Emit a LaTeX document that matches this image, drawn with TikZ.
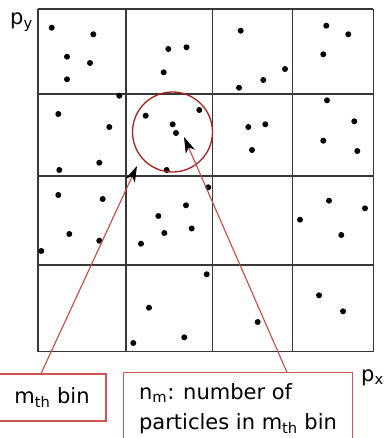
\documentclass[tikz,border=0pt]{standalone}
\usepackage{fontspec}
\setmainfont{DejaVu Sans}
\usetikzlibrary{arrows.meta,calc}
\definecolor{boxred}{RGB}{205,85,85}
\definecolor{circred}{RGB}{165,35,35}
\definecolor{linered}{RGB}{205,70,70}
\definecolor{gridgray}{RGB}{55,55,55}
\begin{document}
\begin{tikzpicture}[x=1pt,y=-1pt,
  gridline/.style={draw=gridgray,line width=1.2pt},
  dot/.style={fill=black},
  labelbox/.style={draw=boxred,line width=1.1pt,rectangle,inner sep=0pt},
  pointer/.style={draw=linered,line width=1.1pt,-{Stealth[length=16pt,width=10pt,inset=4.5pt,black]}},
  axislabel/.style={inner sep=0pt,anchor=base west},
  every node/.style={font=\fontsize{21}{30}\selectfont}]
\useasboundingbox (0,0) rectangle (384,438);
% grid
\foreach \x in {38,126,212.7,292.7,373.3}
  \draw[gridline] (\x,9) -- (\x,351.5);
\foreach \y in {9,94,176,265,351.5}
  \draw[gridline] (38,\y) -- (373.3,\y);
% particles
\foreach \p in {(51.7,27.7),(93.3,34.3),(67,56.7),(90,63),(67,79.3),(119.3,95.7),
  (58.3,114),(109.3,127),(59.3,170),(99.3,162.7),(168.3,49),(186.5,47.3),
  (163.7,72.3),(145.7,115.7),(172.7,124.3),(176,133),(166.7,170),(199.3,110),
  (240.7,30.7),(285,69),(263.3,80),(239,87.7),(326.3,25.7),(348.3,34.3),
  (323.3,54.3),(248.3,127),(265.3,124.3),(252,150),(327,100.3),(354.3,121.3),
  (323.3,140.7),(357.3,151),(58.3,195),(102.7,199),(69.3,234),(99.3,240.7),
  (41.3,251),(158.3,216),(186,205.3),(164.3,233),(191.7,228.5),(141,243.7),
  (208.3,187.3),(329,200.7),(365,208.3),(300,219.7),(341.3,235),(206.7,274.3),
  (149,307.7),(184.3,337.3),(133.3,343),(257.7,322),(319,295.3),(343,311.3)}
  \fill[dot] \p circle (3pt);
% circle around the m-th bin
\node[draw=circred,line width=1.3pt,circle,minimum size=80pt,inner sep=0pt] (ring) at (172.5,132) {};
% axis labels
\node[axislabel] (py) at (10,25) {p\textsubscript{y}};
\node[axislabel] (px) at (361,381) {p\textsubscript{x}};
% label boxes
\node[labelbox,minimum width=108pt,minimum height=47pt] (mbin) at (52,397.5) {m\textsubscript{th} bin};
\node[labelbox,minimum width=229pt,minimum height=72pt,align=left,anchor=north west] (nbox) at (123,372)
  {n\textsubscript{m}: number of\\particles in m\textsubscript{th} bin};
% pointers
\coordinate (tip1) at (137,166);
\coordinate (tip2) at (184,137);
\draw[pointer] ($(mbin.north west)!0.4!(mbin.north east)$) -- (tip1);
\draw[pointer] ($(nbox.north west)!0.712!(nbox.north east)$) -- (tip2);
\end{tikzpicture}
\end{document}
